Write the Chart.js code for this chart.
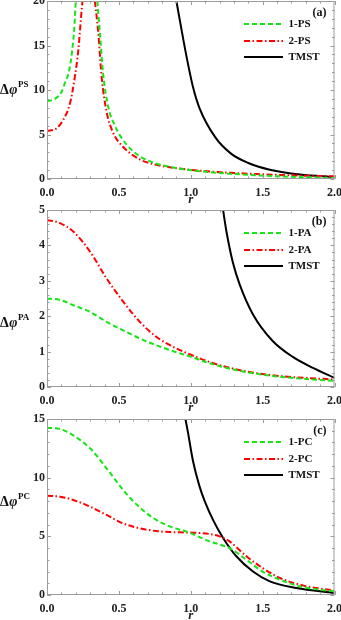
<!DOCTYPE html>
<html lang="en">
<head>
  <meta charset="UTF-8">
  <title>Phase sensitivity vs r</title>
  <script src="https://cdn.jsdelivr.net/npm/chart.js@4.4.1/dist/chart.umd.min.js"></script>
  <style>
    body {
      margin: 0;
      background: #fff;
      width: 341px;
      height: 620px;
      overflow: hidden;
      position: relative;
    }
    .panel { position: absolute; left: 0; }
  </style>
</head>
<body>
  <div class="panel" id="wa"><canvas id="ca"></canvas></div>
  <div class="panel" id="wb"><canvas id="cb"></canvas></div>
  <div class="panel" id="wc"><canvas id="cc"></canvas></div>

  <script>
    // ---- panel (a): PS ----
    const rPS1L = [0, 0.05, 0.1, 0.125, 0.15, 0.175, 0.19, 0.2];
    const vPS1L = [8.75, 8.95, 9.75, 10.8, 11.9, 14.4, 17.0, 20];
    const rPS1R = [0.35, 0.368, 0.39, 0.426, 0.472, 0.507, 0.6, 0.715, 0.877, 1.11, 1.456, 1.7, 2.0];
    const vPS1R = [20, 16.4, 11.9, 8.1, 6.0, 4.9, 3.1, 2.0, 1.3, 0.8, 0.42, 0.25, 0.1];
    const rPS2L = [0, 0.067, 0.113, 0.16, 0.194, 0.218, 0.241, 0.247];
    const vPS2L = [5.4, 5.7, 6.65, 8.5, 11.5, 14.5, 19, 20];
    const rPS2R = [0.333, 0.357, 0.38, 0.414, 0.46, 0.53, 0.646, 0.76, 0.99, 1.22, 1.456, 1.69, 2.0];
    const vPS2R = [20, 16.4, 11.5, 7.6, 5.2, 3.6, 2.2, 1.6, 1.05, 0.75, 0.56, 0.42, 0.3];
    const rTmA = [0.9, 0.97, 1.016, 1.06, 1.17, 1.28, 1.4, 1.55, 1.76, 2.0];
    const vTmA = [20, 13.8, 10.3, 8.0, 4.7, 2.85, 1.8, 1.05, 0.5, 0.22];

    // ---- panel (b): PA ----
    const rPA = [0, 0.09, 0.183, 0.3, 0.414, 0.53, 0.646, 0.76, 0.88, 0.995, 1.157, 1.387, 1.62, 2.0];
    const vPA1 = [2.5, 2.46, 2.31, 2.12, 1.84, 1.6, 1.37, 1.18, 1.01, 0.86, 0.64, 0.42, 0.29, 0.17];
    const vPA2 = [4.72, 4.63, 4.39, 3.82, 3.07, 2.41, 1.84, 1.42, 1.13, 0.92, 0.67, 0.44, 0.31, 0.21];
    const rTmB = [1.225, 1.248, 1.294, 1.34, 1.433, 1.57, 1.71, 1.85, 2.0];
    const vTmB = [5, 4.4, 3.5, 2.9, 2.05, 1.3, 0.85, 0.54, 0.26];

    // ---- panel (c): PC ----
    const rPC = [0, 0.09, 0.183, 0.3, 0.414, 0.53, 0.646, 0.76, 0.854, 0.993, 1.13, 1.2, 1.27, 1.387, 1.5, 1.62, 1.78, 2.0];
    const vPC1 = [14.26, 14.15, 13.6, 12.5, 10.8, 8.95, 7.45, 6.4, 5.85, 5.3, 4.57, 4.3, 4.0, 3.0, 2.0, 1.3, 0.68, 0.3];
    const vPC2 = [8.46, 8.38, 8.1, 7.53, 6.82, 6.1, 5.68, 5.45, 5.36, 5.32, 5.2, 5.0, 4.57, 3.3, 2.3, 1.45, 0.82, 0.37];
    const rTmC = [0.963, 0.98, 1.016, 1.06, 1.097, 1.155, 1.225, 1.317, 1.433, 1.55, 1.734, 2.0];
    const vTmC = [15, 13.9, 11.4, 9.3, 8.0, 6.4, 4.86, 3.3, 2.0, 1.16, 0.6, 0.18];

    const xTicks = [0, 0.5, 1, 1.5, 2];

    const GREEN = '#14e614', RED = '#ff0000', BLACK = '#000000';
    const DASH_G = [5, 3], DASH_R = [6, 2.5, 1.5, 2.5];
    const SERIF = "'Liberation Serif', 'DejaVu Serif', serif";

    function pts(xs, ys) { return xs.map((x, i) => ({ x: x, y: ys[i] })); }

    function line(xs, ys, color, dash) {
      return {
        data: pts(xs, ys),
        borderColor: color,
        borderWidth: 2,
        borderDash: dash || [],
        pointRadius: 0,
        fill: false,
        cubicInterpolationMode: 'monotone',
        clip: 0
      };
    }

    // frame, inward ticks, legend and the y label
    const decor = {
      id: 'decor',
      afterDraw(chart, args, o) {
        const ctx = chart.ctx, a = chart.chartArea;
        const xs = chart.scales.x, ys = chart.scales.y;
        ctx.save();
        ctx.strokeStyle = '#9c9c9c';
        ctx.lineWidth = 1;
        ctx.setLineDash([]);
        ctx.strokeRect(a.left + 0.5, a.top + 0.5, a.right - a.left - 1, a.bottom - a.top - 1);

        ctx.beginPath();
        for (let i = 0; i <= 20; i++) {
          const px = Math.round(xs.getPixelForValue(i * 0.1)) + 0.5;
          const len = i % 5 === 0 ? 4 : 2.5;
          ctx.moveTo(px, a.bottom); ctx.lineTo(px, a.bottom - len);
          ctx.moveTo(px, a.top); ctx.lineTo(px, a.top + len);
        }
        const n = Math.round(o.yMax / o.yMinor);
        for (let i = 0; i <= n; i++) {
          const v = i * o.yMinor;
          const py = Math.round(ys.getPixelForValue(v)) + 0.5;
          const len = Math.abs(v / o.yMajor - Math.round(v / o.yMajor)) < 1e-6 ? 4 : 2.5;
          ctx.moveTo(a.left, py); ctx.lineTo(a.left + len, py);
          ctx.moveTo(a.right, py); ctx.lineTo(a.right - len, py);
        }
        ctx.stroke();

        // legend
        ctx.font = 'bold 11px ' + SERIF;
        ctx.textBaseline = 'middle';
        ctx.textAlign = 'left';
        const rows = [23, 40, 56];
        o.legend.forEach((item, i) => {
          const y = a.top + rows[i];
          ctx.strokeStyle = item.color;
          ctx.lineWidth = 2;
          ctx.setLineDash(item.dash);
          ctx.beginPath();
          ctx.moveTo(a.right - 90.5, y);
          ctx.lineTo(a.right - 51.5, y);
          ctx.stroke();
          ctx.fillStyle = '#111';
          ctx.fillText(item.text, a.right - 46, y + 0.5);
        });
        ctx.setLineDash([]);
        ctx.textAlign = 'right';
        ctx.font = 'bold 12px ' + SERIF;
        ctx.fillText(o.tag, a.right - 8, a.top + 12);

        // y label: Δφ with superscript
        ctx.textAlign = 'left';
        ctx.textBaseline = 'alphabetic';
        const base = a.top + o.labelY;
        ctx.font = 'bold 14px ' + SERIF;
        ctx.fillText('Δ', 0, base);
        let x = ctx.measureText('Δ').width + 0.5;
        ctx.font = 'italic bold 14px ' + SERIF;
        ctx.fillText('φ', x, base);
        x += ctx.measureText('φ').width + 0.5;
        ctx.font = 'bold 9px ' + SERIF;
        ctx.fillText(o.sup, x, base - 7);
        ctx.restore();
      }
    };

    function makeChart(canvasId, wrapId, top, areaH, datasets, yMax, yStep, yMinor, opts) {
      const canvas = document.getElementById(canvasId);
      const padTop = 10, xAxisH = 28;
      canvas.width = 350;
      canvas.height = padTop + areaH + xAxisH;
      document.getElementById(wrapId).style.top = (top - padTop) + 'px';
      return new Chart(canvas, {
        type: 'line',
        data: { datasets: datasets },
        options: {
          responsive: false,
          animation: false,
          devicePixelRatio: 1,
          layout: { padding: { top: padTop, right: 15.5, left: 0, bottom: 0 } },
          scales: {
            x: {
              type: 'linear',
              min: 0, max: 2,
              afterBuildTicks: s => { s.ticks = xTicks.map(v => ({ value: v })); },
              afterFit: s => { s.height = xAxisH; },
              grid: { display: false, drawTicks: false },
              border: { display: false },
              ticks: {
                padding: 7,
                color: '#222',
                font: { family: SERIF, size: 12, weight: 'bold' },
                callback: v => Number(v).toFixed(1),
                maxRotation: 0
              },
              title: {
                display: true,
                text: 'r',
                color: '#222',
                padding: { top: 0, bottom: 0 },
                font: { family: SERIF, size: 13, weight: 'bold', style: 'italic' }
              }
            },
            y: {
              min: 0, max: yMax,
              afterFit: s => { s.width = 47; },
              grid: { display: false, drawTicks: false },
              border: { display: false },
              ticks: {
                stepSize: yStep,
                padding: 2,
                color: '#222',
                font: { family: SERIF, size: 12, weight: 'bold' }
              }
            }
          },
          plugins: {
            legend: { display: false },
            tooltip: { enabled: false },
            decor: Object.assign({ yMax: yMax, yMajor: yStep, yMinor: yMinor }, opts)
          }
        },
        plugins: [decor]
      });
    }

    makeChart('ca', 'wa', 1, 178, [
      line(rPS1L, vPS1L, GREEN, DASH_G),
      line(rPS1R, vPS1R, GREEN, DASH_G),
      line(rPS2L, vPS2L, RED, DASH_R),
      line(rPS2R, vPS2R, RED, DASH_R),
      line(rTmA, vTmA, BLACK)
    ], 20, 5, 1, {
      tag: '(a)', sup: 'PS', labelY: 93,
      legend: [
        { text: '1-PS', color: GREEN, dash: DASH_G },
        { text: '2-PS', color: RED, dash: DASH_R },
        { text: 'TMST', color: BLACK, dash: [] }
      ]
    });

    makeChart('cb', 'wb', 210, 177, [
      line(rPA, vPA1, GREEN, DASH_G),
      line(rPA, vPA2, RED, DASH_R),
      line(rTmB, vTmB, BLACK)
    ], 5, 1, 0.2, {
      tag: '(b)', sup: 'PA', labelY: 117,
      legend: [
        { text: '1-PA', color: GREEN, dash: DASH_G },
        { text: '2-PA', color: RED, dash: DASH_R },
        { text: 'TMST', color: BLACK, dash: [] }
      ]
    });

    makeChart('cc', 'wc', 419, 176, [
      line(rPC, vPC1, GREEN, DASH_G),
      line(rPC, vPC2, RED, DASH_R),
      line(rTmC, vTmC, BLACK)
    ], 15, 5, 1, {
      tag: '(c)', sup: 'PC', labelY: 87,
      legend: [
        { text: '1-PC', color: GREEN, dash: DASH_G },
        { text: '2-PC', color: RED, dash: DASH_R },
        { text: 'TMST', color: BLACK, dash: [] }
      ]
    });
  </script>
</body>
</html>
